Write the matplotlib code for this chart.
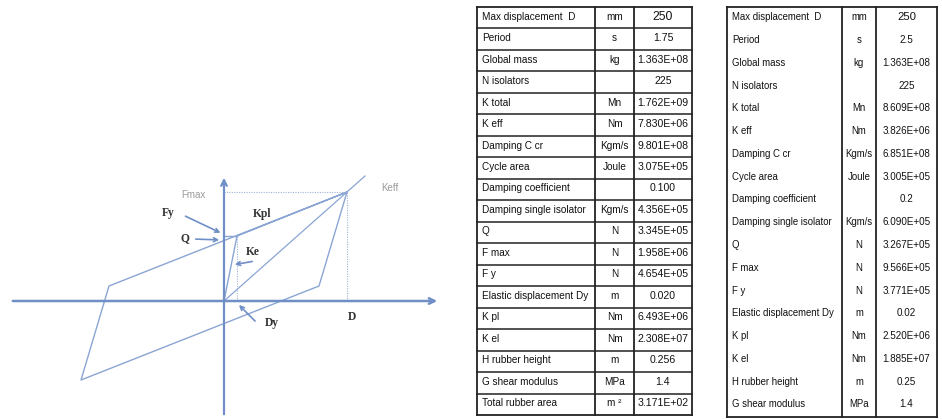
import matplotlib.pyplot as plt

# Hysteresis loop of a lead-rubber isolator (displacement, force), sketch units
loop_x = [0, 13, 123, 95, -143, -115, 123]
loop_y = [0, 65, 109, 15, -79, 15, 109]
keff_x = [0, 141]
keff_y = [0, 125]
D_point = (123, 109)
Dy_point = (13, 65)

# Isolator design parameters, case T = 1.75 s
rows_a = ["Max displacement  D", "Period", "Global mass", "N isolators", "K total", "K eff",
          "Damping C cr", "Cycle area", "Damping coefficient", "Damping single isolator",
          "Q", "F max", "F y", "Elastic displacement Dy", "K pl", "K el",
          "H rubber height", "G shear modulus", "Total rubber area"]
units_a = ["mm", "s", "kg", "", "Mn", "Nm", "Kgm/s", "Joule", "", "Kgm/s",
           "N", "N", "N", "m", "Nm", "Nm", "m", "MPa", "m ²"]
values_a = ["250", "1.75", "1.363E+08", "225", "1.762E+09", "7.830E+06", "9.801E+08",
            "3.075E+05", "0.100", "4.356E+05", "3.345E+05", "1.958E+06", "4.654E+05",
            "0.020", "6.493E+06", "2.308E+07", "0.256", "1.4", "3.171E+02"]

# Same parameters, case T = 2.5 s
rows_b = ["Max displacement  D", "Period", "Global mass", "N isolators", "K total", "K eff",
          "Damping C cr", "Cycle area", "Damping coefficient", "Damping single isolator",
          "Q", "F max", "F y", "Elastic displacement Dy", "K pl", "K el",
          "H rubber height", "G shear modulus"]
units_b = ["mm", "s", "kg", "", "Mn", "Nm", "Kgm/s", "Joule", "", "Kgm/s",
           "N", "N", "N", "m", "Nm", "Nm", "m", "MPa"]
values_b = ["250", "2.5", "1.363E+08", "225", "8.609E+08", "3.826E+06", "6.851E+08",
            "3.005E+05", "0.2", "6.090E+05", "3.267E+05", "9.566E+05", "3.771E+05",
            "0.02", "2.520E+06", "1.885E+07", "0.25", "1.4"]

W, H = 942, 419
fig = plt.figure(figsize=(W / 100, H / 100), dpi=100)
fig.patch.set_facecolor("white")

axis_col = "#6f8fc6"
line_col = "#8aa5d4"
serif = ["Liberation Serif", "DejaVu Serif"]
sans = ["Liberation Sans", "DejaVu Sans"]

# ---- hysteresis sketch ----
ax = fig.add_axes([0, 0, 460 / W, 1])
ax.set_xlim(-224, 236)
ax.set_ylim(-118, 301)
ax.axis("off")

ax.annotate("", xy=(216, 0), xytext=(-214, 0),
            arrowprops=dict(arrowstyle="->", color=axis_col, lw=1.8, mutation_scale=10))
ax.annotate("", xy=(0, 126), xytext=(0, -116),
            arrowprops=dict(arrowstyle="->", color=axis_col, lw=1.6, mutation_scale=10))

ax.plot(loop_x, loop_y, color=line_col, lw=1.0)
ax.plot(keff_x, keff_y, color=line_col, lw=0.9)
ax.plot([0, Dy_point[0]], [Dy_point[1], Dy_point[1]], color=line_col, lw=1.0)

# guide lines to Fmax, D and Dy
dot = dict(color="#9fb3d8", lw=0.8, ls=(0, (1, 1.2)))
ax.plot([0, D_point[0]], [D_point[1], D_point[1]], **dot)
ax.plot([D_point[0], D_point[0]], [0, D_point[1]], **dot)
ax.plot([Dy_point[0], Dy_point[0]], [0, Dy_point[1]], **dot)

lab = dict(family=serif, fontsize=8.3, fontweight="bold", color="#333333",
           ha="center", va="center")
ax.text(-31, 106, "Fmax", family=sans, fontsize=7, color="#9a9a9a", ha="center", va="center")
ax.text(166, 113, "Keff", family=sans, fontsize=7, color="#9a9a9a", ha="center", va="center")
ax.text(-56, 88, "Fy", **lab)
ax.text(-39, 63, "Q", **lab)
ax.text(38, 87, "Kpl", **lab)
ax.text(29, 49, "Ke", **lab)
ax.text(48, -22, "Dy", **lab)
ax.text(128, -16, "D", **lab)

arr = dict(arrowstyle="->", color=axis_col, lw=1.2, mutation_scale=7)
ax.annotate("", xy=(-1, 67), xytext=(-41, 86), arrowprops=arr)
ax.annotate("", xy=(-2, 61), xytext=(-31, 62), arrowprops=arr)
ax.annotate("", xy=(8, 36), xytext=(31, 40), arrowprops=arr)
ax.annotate("", xy=(13, -2), xytext=(33, -22), arrowprops=arr)

# ---- parameter tables ----
tx = fig.add_axes([0, 0, 1, 1], facecolor="none")
tx.set_xlim(0, W)
tx.set_ylim(H, 0)
tx.axis("off")


def draw_table(names, units, values, cols, top, bottom, inner_rules, size, vsize):
    n = len(names)
    step = (bottom - top) / n
    x0, x1, x2, x3 = cols
    for x in cols:
        tx.plot([x, x], [top, bottom], color="#222222", lw=1.3)
    tx.plot([x0, x3], [top, top], color="#222222", lw=1.3)
    tx.plot([x0, x3], [bottom, bottom], color="#222222", lw=1.3)
    if inner_rules:
        for i in range(1, n):
            y = top + i * step
            tx.plot([x0, x3], [y, y], color="#222222", lw=1.1)
    for i, (name, unit, val) in enumerate(zip(names, units, values)):
        yc = top + (i + 0.45) * step
        tx.text(x0 + 5, yc, name, family=sans, fontsize=size, ha="left", va="center",
                color="#111111")
        tx.text((x1 + x2) / 2, yc, unit, family=sans, fontsize=size, ha="center",
                va="center", color="#111111")
        vs = vsize + 1.1 if i == 0 else vsize
        tx.text((x2 + x3) / 2, yc, val, family=sans, fontsize=vs, ha="center",
                va="center", color="#111111")


draw_table(rows_a, units_a, values_a, (477, 595, 634, 692), 7, 415, True, 7.2, 7.6)
draw_table(rows_b, units_b, values_b, (727, 842, 876, 937), 7, 417, False, 6.9, 7.1)

fig.savefig("out.png", dpi=100, facecolor="white")
